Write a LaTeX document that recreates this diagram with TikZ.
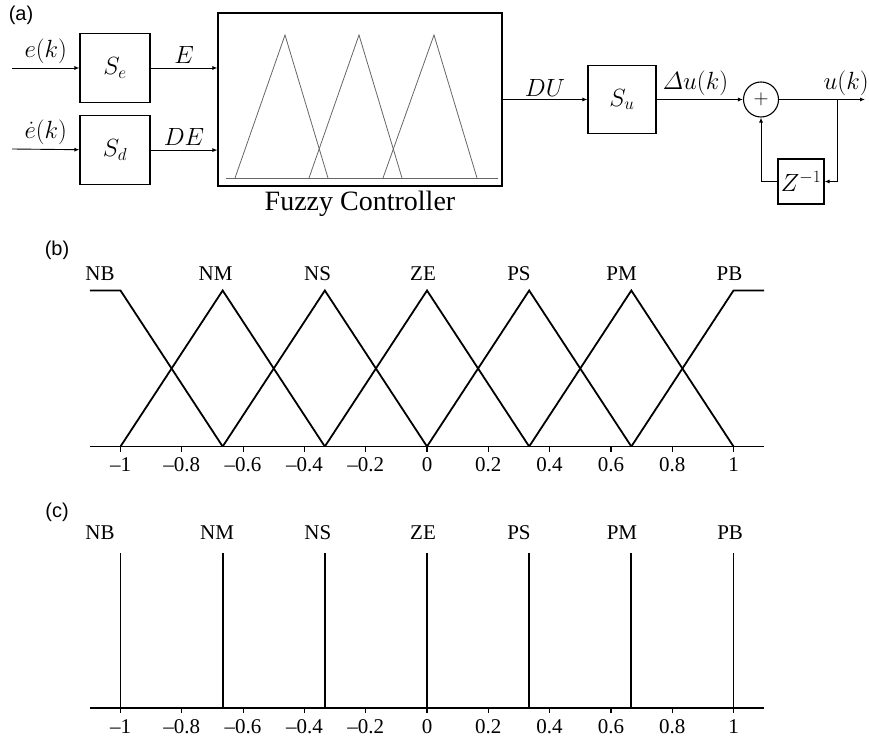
\documentclass[tikz,border=0pt]{standalone}
\usepackage{amsmath}
\usepackage{fontspec}
\setmainfont{Liberation Serif}
\setsansfont{Liberation Sans}
\usetikzlibrary{positioning,arrows.meta,calc}

\begin{document}
\begin{tikzpicture}[
  x=1pt, y=1pt,
  blk/.style={draw, line width=1.1pt, inner sep=0pt, minimum width=70pt, minimum height=69pt, font=\fontsize{26}{28}\selectfont},
  sig/.style={font=\fontsize{24}{26}\selectfont, inner sep=1pt},
  arr/.style={-{Latex[length=5pt,width=4pt]}, line width=0.9pt},
  tag/.style={font=\sffamily\fontsize{20}{22}\selectfont},
  mf/.style={line width=1.8pt, line join=miter},
  lbl/.style={font=\fontsize{21}{24}\selectfont, inner sep=1pt},
  tk/.style={font=\fontsize{21}{24}\selectfont, below=9pt, inner sep=2pt}
]
\useasboundingbox (0,0) rectangle (869,742);

% (a) controller loop
\node[tag] (taga) at (21,727) {(a)};
\node[blk] (se) at (115,674) {$S_e$};
\node[blk, below=12pt of se] (sd) {$S_d$};
\node[draw, line width=1.1pt, minimum width=284pt, minimum height=173pt] (fc) at (360,642.5) {};
\node[font=\fontsize{28}{30}\selectfont, below=1pt of fc] (fcname) {Fuzzy Controller};
\draw[black!60, line width=0.8pt] (226,564) -- (498,564);
\draw[black!60, line width=0.8pt] (235,564) -- (285,707) -- (328,564);
\draw[black!60, line width=0.8pt] (309,564) -- (359,707) -- (402,564);
\draw[black!60, line width=0.8pt] (383,564) -- (434,707) -- (477,564);
\node[blk, minimum width=68pt, minimum height=68pt] (su) at (622,642.5) {$S_u$};
\node[draw, circle, line width=1.1pt, minimum size=35pt, inner sep=0pt, font=\fontsize{22}{24}\selectfont] (sum) at (761,642.5) {$+$};
\node[blk, minimum width=46pt, minimum height=45pt, font=\fontsize{23}{25}\selectfont] (zd) at (801,560.5) {$Z^{-1}$};
\coordinate (ein) at (12,674);
\coordinate (dein) at (12,593);
\coordinate (uout) at (865,642.5);
\coordinate (br) at (837,642.5);
\draw[arr] (ein) -- (se) node[sig, midway, above=3pt] (le) {$e(k)$};
\draw[arr] (dein) -- (sd) node[sig, midway, above=3pt] (lde) {$\dot{e}(k)$};
\draw[arr] (se) -- (se -| fc.west) node[sig, midway, above=3pt] (lE) {$E$};
\draw[arr] (sd) -- (sd -| fc.west) node[sig, midway, above=3pt] (lDE) {$DE$};
\draw[arr] (fc) -- (su) node[sig, midway, above=2pt] (lDU) {$DU$};
\draw[arr] (su) -- (sum) node[sig, pos=0.45, above=2pt] (ldu) {$\varDelta u(k)$};
\draw[arr] (sum) -- (uout) node[sig, pos=0.78, above=2pt] (lu) {$u(k)$};
\draw[arr] (br) |- (zd);
\draw[arr] (zd) -| (sum);

% (b) triangular sets
\node[tag] (tagb) at (57,492) {(b)};
\begin{scope}[shift={(427,295.5)}, x=306.5pt, y=156pt]
\draw[mf] (-1.1,0) -- (1.1,0);
\foreach \t/\s in {-1/--1,-0.8/--0.8,-0.6/--0.6,-0.4/--0.4,-0.2/--0.2,0/0,0.2/0.2,0.4/0.4,0.6/0.6,0.8/0.8,1/1} {
  \draw[line width=1.2pt] (\t,0) -- ++(0,-5pt);
  \node[tk] (tb\t) at (\t,0) {\s};
}
\draw[mf] (-1.1,1) -- (-1,1) -- (-2/3,0);
\foreach \p in {-2,...,2}
  \draw[mf] ({(\p-1)/3},0) -- ({\p/3},1) -- ({(\p+1)/3},0);
\draw[mf] (2/3,0) -- (1,1) -- (1.1,1);
\foreach \n/\x in {NB/-1.067,NM/-0.69,NS/-0.357,ZE/-0.013,PS/0.30,PM/0.635,PB/0.987}
  \node[lbl] (b\n) at (\x,1.11) {\n};
\end{scope}

% (c) singletons
\node[tag] (tagc) at (57,230) {(c)};
\begin{scope}[shift={(427,34)}, x=306.5pt, y=155pt]
\draw[mf] (-1.1,0) -- (1.1,0);
\foreach \t/\s in {-1/--1,-0.8/--0.8,-0.6/--0.6,-0.4/--0.4,-0.2/--0.2,0/0,0.2/0.2,0.4/0.4,0.6/0.6,0.8/0.8,1/1} {
  \draw[line width=1.2pt] (\t,0) -- ++(0,-5pt);
  \node[tk] (tc\t) at (\t,0) {\s};
}
\foreach \p in {-3,...,3}
  \draw[mf] ({\p/3},0) -- ({\p/3},1);
\foreach \n/\x in {NB/-1.067,NM/-0.685,NS/-0.356,ZE/-0.013,PS/0.30,PM/0.636,PB/0.989}
  \node[lbl] (c\n) at (\x,1.13) {\n};
\end{scope}
\end{tikzpicture}
\end{document}
